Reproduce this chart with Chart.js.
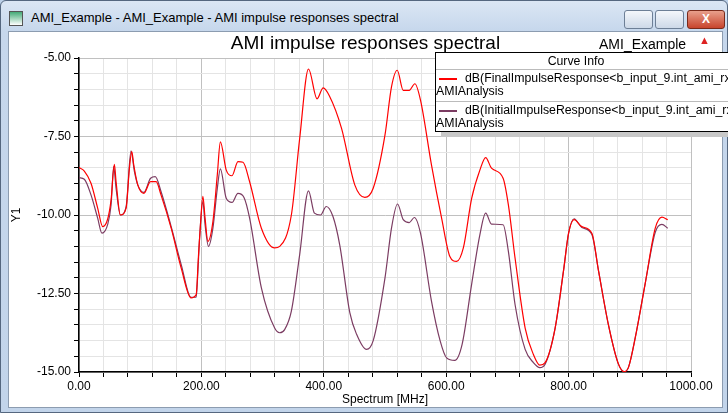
<!DOCTYPE html>
<html><head><meta charset="utf-8">
<script src="https://cdn.jsdelivr.net/npm/chart.js@4"></script>
<style>
body{margin:0;width:728px;height:413px;overflow:hidden;background:#bcd0e8;font-family:"Liberation Sans",Arial,sans-serif;}
#win{position:absolute;left:0;top:0;width:726px;height:411px;border:1px solid #55677f;border-radius:6px 6px 0 0;background:linear-gradient(#dbe6f4,#c6d7ec 30px,#c2d4ea);}
#ttl{position:absolute;left:30px;top:9px;font-size:13px;color:#000;font-family:"Liberation Sans",Arial,sans-serif;}
#icon{position:absolute;left:8px;top:10px;width:12px;height:13px;border:1px solid #555;background:linear-gradient(#4a7 ,#fff);}
.btn{position:absolute;top:9px;height:17px;border:1px solid #6d7f96;border-radius:3px;background:linear-gradient(#f4f7fb,#cdd9e8);}
#client{position:absolute;left:7px;top:30px;width:713px;height:375px;background:#fff;border:1px solid #8c9cb0;}
#title{position:absolute;left:0;width:713px;top:0px;text-align:center;font-size:19px;}
#proj{position:absolute;left:590px;top:4px;font-size:14px;}
#legend{position:absolute;left:426px;top:20px;width:300px;height:78px;background:#fff;border:1px solid #000;font-size:12.3px;box-shadow:6px 5px 0 #c8c8c8;overflow:hidden;white-space:nowrap}
#legend .hd{text-align:center;height:16px;line-height:16px;border-bottom:1px solid #bbb;padding-right:20px}
#legend .it{height:29px;border-bottom:1px solid #bbb;position:relative;line-height:13px;padding-top:2px}
#legend .sw{display:inline-block;width:18px;height:2px;vertical-align:middle;margin:0 8px 0 3px;}
canvas{position:absolute;left:0;top:0;}
</style></head><body>
<div id="win">
<div id="icon"></div>
<div id="ttl">AMI_Example - AMI_Example - AMI impulse responses spectral</div>
<div class="btn" style="left:623px;width:27px"></div>
<div class="btn" style="left:654px;width:27px"></div>
<div class="btn" style="left:686px;width:36px;background:linear-gradient(#e8a08c,#c8442c);border-color:#7a2a1a;color:#fff;text-align:center;font-weight:bold;font-size:12px;line-height:17px">X</div>
<div id="client">
<canvas id="c" width="713" height="375"></canvas>
<div id="title">AMI impulse responses spectral</div>
<div id="proj">AMI_Example</div>
<div style="position:absolute;left:690px;top:2px;color:#d22;font-size:11px">&#9650;</div>
<div id="legend">
<div class="hd">Curve Info</div>
<div class="it"><span class="sw" style="background:#ff0000"></span>dB(FinalImpulseResponse&lt;b_input_9.int_ami_rx<br>AMIAnalysis</div>
<div class="it" style="border-bottom:none"><span class="sw" style="background:#7b3c62"></span>dB(InitialImpulseResponse&lt;b_input_9.int_ami_rx<br>AMIAnalysis</div>
</div>
</div>
</div>
<script>
const redFreq=[0,8.7,19.6,30.5,38.7,47,52.4,57.8,60.6,67.6,77,82.4,86.2,89.5,96,106,117,126,134,150.6,167,183,191.5,195,198.5,202.4,206,210.6,218.8,226,231,240.6,250,259.7,268,278.8,298,319.7,328,347,360.6,375,389,399,409,429,450.6,467,480.7,500,510.6,520,529.8,539.6,548.8,558,576,592.5,606,617,628,641.6,655,664.5,674,693,701.6,712.5,729,742.5,753,761.6,778,791.6,800,809,821.6,838,849,865,881.5,891,897.7,909,925,941.6,952.5,962];
const redVal=[-8.49,-8.6,-8.99,-9.78,-10.37,-10.12,-9.52,-8.39,-8.94,-10.0,-9.78,-8.51,-7.98,-8.41,-9.04,-9.31,-8.94,-8.94,-9.36,-10.42,-11.69,-12.64,-12.53,-11.37,-10.3,-9.41,-10.1,-10.84,-10.21,-8.72,-7.67,-8.57,-8.75,-8.3,-8.32,-8.94,-10.42,-11.05,-11.0,-10.0,-7.56,-5.35,-6.3,-5.95,-6.2,-7.24,-9.04,-9.44,-9.15,-7.45,-5.92,-5.39,-6.03,-6.03,-5.82,-6.34,-8.41,-10.1,-11.32,-11.48,-11.05,-9.47,-8.57,-8.17,-8.51,-8.83,-9.68,-11.37,-13.6,-14.44,-14.78,-14.7,-13.6,-11.79,-10.58,-10.15,-10.37,-10.58,-11.79,-13.49,-14.75,-14.99,-14.86,-13.9,-12.2,-10.42,-10.07,-10.15];
const purFreq=[0,8.7,19.6,30.5,37.6,47,52.4,56.7,60.6,67.6,77,85,90.6,96,106,117,124.6,134,150.6,167,183,191.5,194,197,202.4,206,211.6,218.8,226,231,240.6,250,259.7,269.6,278.8,298,319.7,328,336,347,360.6,375,384.7,394.6,404,415,426,442.6,453.6,469.7,480.7,500,510.6,520.5,529.8,539.6,548,558,576,590,600.7,614,626,641.6,655,664.5,674,693,701.6,712.5,729,742.5,753,761.6,778,791.6,800,809,821.6,838,849,865,881.5,891,897.7,909,925,941.6,952.5,962];
const purVal=[-8.81,-8.86,-9.36,-10.1,-10.58,-10.29,-9.68,-8.46,-9.15,-10.0,-9.73,-7.96,-8.62,-9.04,-9.28,-8.83,-8.78,-9.25,-10.37,-11.58,-12.62,-12.62,-11.9,-10.74,-9.57,-10.31,-11.0,-10.42,-9.15,-8.53,-9.47,-9.6,-9.31,-9.44,-10.1,-12.32,-13.6,-13.75,-13.65,-13.06,-11.26,-9.23,-9.94,-10.0,-9.73,-10.05,-10.95,-13.12,-13.8,-14.28,-14.0,-12.0,-10.42,-9.65,-10.15,-10.24,-10.08,-10.58,-12.75,-14.0,-14.55,-14.63,-14.12,-12.2,-10.63,-9.94,-10.29,-10.31,-11.16,-12.85,-14.28,-14.7,-14.86,-14.75,-13.6,-11.79,-10.58,-10.12,-10.4,-10.62,-11.79,-13.49,-14.75,-14.99,-14.86,-13.9,-12.2,-10.55,-10.3,-10.42];
const xTickLabels=[0,200,400,600,800,1000];
const yTickLabels=[-5,-7.5,-10,-12.5,-15];
const pts=(f,v)=>f.map((x,i)=>({x:x,y:v[i]}));
const font={family:"'Liberation Sans', Arial, sans-serif",size:12};
new Chart(document.getElementById('c'),{
type:'line',
data:{datasets:[
{label:'Final',data:pts(redFreq,redVal),borderColor:'#ff0000',borderWidth:1.2,pointRadius:0,cubicInterpolationMode:'monotone'},
{label:'Initial',data:pts(purFreq,purVal),borderColor:'#7b3c62',borderWidth:1.2,pointRadius:0,cubicInterpolationMode:'monotone'}
]},
options:{responsive:false,animation:false,
layout:{padding:{top:26,right:31,left:0,bottom:0}},
plugins:{legend:{display:false},tooltip:{enabled:false}},
scales:{
x:{type:'linear',min:0,max:1000,
afterFit:s=>{s.height=35},
afterBuildTicks:s=>{const t=[];for(let v=0;v<=1000;v+=40)t.push({value:v});s.ticks=t;},
ticks:{autoSkip:false,maxRotation:0,color:'#000',font,padding:2,callback:v=>xTickLabels.includes(v)?v.toFixed(2):''},
grid:{color:c=>c.tick&&xTickLabels.includes(c.tick.value)?'#c0c0c0':'#e4e4e4',tickColor:'#000',tickLength:5,lineWidth:1},
border:{color:'#000',width:1.5},
title:{display:true,text:'Spectrum [MHz]',color:'#000',font,padding:{top:0,bottom:0}}},
y:{min:-15,max:-5,
afterFit:s=>{s.width=70},
afterBuildTicks:s=>{const t=[];for(let v=-15;v<=-5.001+0.002;v+=0.5)t.push({value:Math.round(v*10)/10});s.ticks=t;},
ticks:{autoSkip:false,color:'#000',font,padding:3,callback:v=>yTickLabels.includes(v)?v.toFixed(2):''},
grid:{color:c=>c.tick&&yTickLabels.includes(c.tick.value)?'#c0c0c0':'#e4e4e4',tickColor:'#000',tickLength:5},
border:{color:'#000',width:1.5},
title:{display:true,text:'Y1',color:'#000',font,padding:{top:0,bottom:8}}}
}}
});
</script>
</body></html>
